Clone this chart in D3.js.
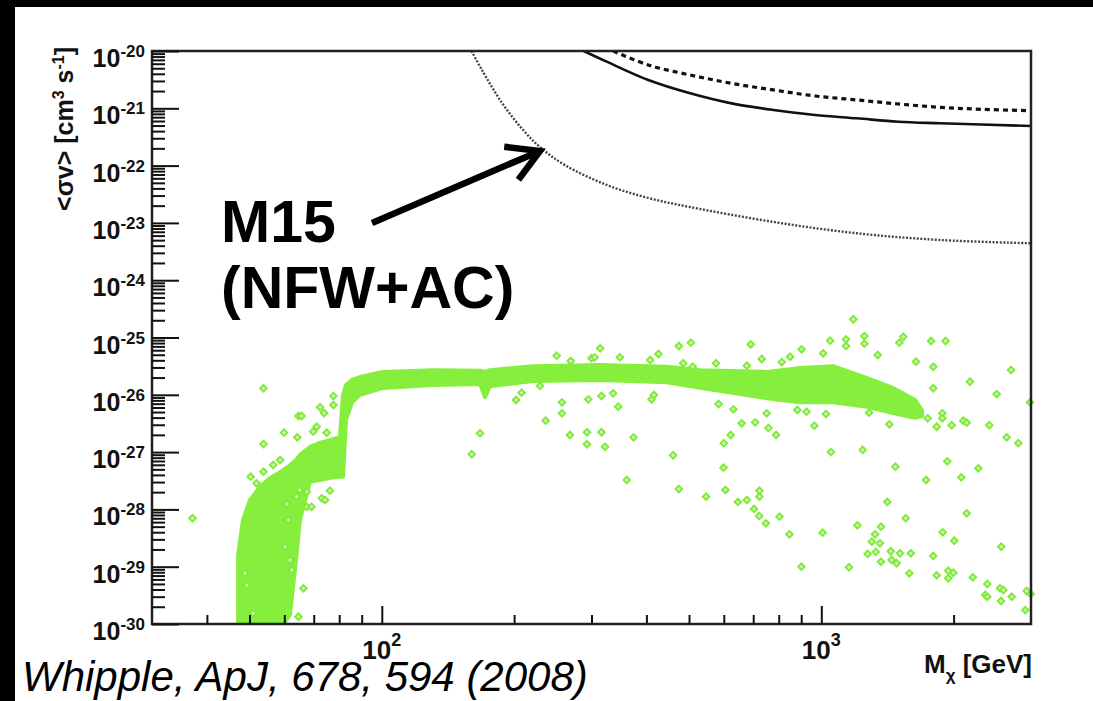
<!DOCTYPE html>
<html lang="en">
<head>
    <meta charset="UTF-8">
    <title>M15 annihilation limits</title>
    <style>
        body { margin: 0; background: #000; }
        svg { display: block; font-family: "Liberation Sans", Arial, sans-serif; }
    </style>
    <script src="https://cdnjs.cloudflare.com/ajax/libs/d3/7.8.5/d3.min.js"></script>
</head>
<body>
    <div id="chart"></div>

    <script>
        // axis ticks
        const massMajor = [100, 1000];
        const massMinor = [40, 50, 60, 70, 80, 90, 200, 300, 400, 500, 600, 700, 800, 900, 2000];
        const sigmaExponents = [-30, -29, -28, -27, -26, -25, -24, -23, -22, -21, -20];

        // limit curves [mass GeV, <sigma v>]
        const limitSolid = [[288, 1e-20], [325, 6.51e-21], [404, 3.12e-21], [503, 1.83e-21], [625, 1.22e-21],
            [778, 9.34e-22], [968, 7.64e-22], [1204, 6.69e-22], [1497, 5.83e-22], [1863, 5.47e-22], [3000, 4.91e-22]];
        const limitDashed = [[336, 1e-20], [404, 5.7e-21], [503, 3.81e-21], [625, 2.73e-21], [778, 2.09e-21],
            [968, 1.64e-21], [1204, 1.40e-21], [1497, 1.19e-21], [1863, 1.04e-21], [2317, 9.6e-22], [3000, 9.08e-22]];
        const limitDotted = [[160, 1e-20], [169, 4.66e-21], [188, 1.22e-21], [209, 4.3e-22], [229, 2.11e-22],
            [261, 1.02e-22], [325, 4.59e-23], [404, 2.72e-23], [503, 1.89e-23], [778, 1.04e-23], [1204, 6.59e-24],
            [1863, 5.03e-24], [3000, 4.41e-24]];

        // dense band of model points: [mass, upper, lower]
        const modelBand = [
            [47.1, 1.58e-29, 8e-31], [48.3, 6.46e-29, 8e-31], [50.1, 1.45e-28, 8e-31], [52.8, 2.45e-28, 8e-31],
            [55.7, 3.55e-28, 8e-31], [58.7, 4.47e-28, 8e-31], [61.8, 5.89e-28, 1.45e-30], [63.8, 7.24e-28, 1.32e-29],
            [65.1, 8.91e-28, 6.46e-29], [68.6, 1.23e-27, 3.02e-28], [72.3, 1.45e-27, 3.24e-28], [76.2, 1.62e-27, 3.55e-28],
            [80.3, 1.82e-27, 3.72e-28], [81.6, 1.0e-26, 3.72e-28], [82.9, 1.48e-26, 3.63e-27], [85.5, 1.82e-26, 7.41e-27],
            [89.2, 2.04e-26, 1.0e-26], [100.6, 2.51e-26, 1.32e-26], [130.8, 2.69e-26, 1.48e-26], [167.3, 2.63e-26, 1.55e-26],
            [171.7, 2.51e-26, 9.12e-27], [176.3, 2.69e-26, 1.41e-26], [220.8, 3.16e-26, 1.74e-26], [313.6, 3.31e-26, 1.82e-26],
            [445.6, 3.09e-26, 1.66e-26], [529.7, 2.69e-26, 1.32e-26], [752.3, 2.51e-26, 8.71e-27], [894.4, 2.95e-26, 7.41e-27],
            [1063, 3.16e-26, 7.41e-27], [1271, 1.95e-26, 6.17e-27], [1456, 1.32e-26, 4.79e-27], [1634, 8.13e-27, 3.98e-27],
            [1695, 5.37e-27, 4.27e-27]
        ];

        // individual model points outside the band: [mass, <sigma v>]
        const modelPoints = [
            [37.1, 7.0e-29], [53.8, 1.30e-26], [53.8, 1.38e-27], [59.9, 2.18e-27], [64.6, 4.27e-27], [65.7, 4.27e-27],
            [72.4, 6.05e-27], [77.6, 9.5e-27], [77.6, 6.64e-27], [73.9, 4.81e-27], [71.1, 2.77e-27], [69.8, 2.27e-27],
            [74.9, 2.18e-27], [64.2, 1.81e-27], [50.3, 3.72e-28], [53.8, 4.55e-28], [56.6, 5.96e-28], [58.7, 7.28e-28],
            [51.9, 2.85e-28], [65.1, 2.18e-28], [67.5, 2.04e-28], [64.0, 1.67e-28], [73.0, 1.56e-28], [74.3, 1.46e-28],
            [76.2, 2.12e-28], [67.5, 1.11e-28], [69.2, 1.11e-28], [60.8, 1.24e-28], [61.3, 6.53e-29], [60.2, 2.23e-29],
            [61.8, 1.31e-29], [62.4, 8.75e-30], [66.3, 4.2e-30], [64.6, 1.34e-30], [48.8, 7.67e-30], [49.3, 4.8e-30],
            [51.0, 1.54e-30],
            [160.2, 9.16e-28], [167.3, 2.13e-27], [202, 8.11e-27], [208, 1.09e-26], [229, 1.43e-26], [236, 3.53e-27],
            [250, 4.81e-26], [257, 7.4e-27], [257, 4.75e-27], [268, 1.99e-27], [269, 3.89e-26], [293, 2.22e-27],
            [293, 1.37e-27], [295, 8.34e-27], [300, 4.34e-26], [305, 4.51e-26], [314, 6.48e-26], [316, 9.53e-27],
            [316, 2.22e-27], [322, 1.24e-27], [336, 1.06e-26], [345, 6.2e-27], [348, 4.51e-26], [361, 3.26e-28],
            [374, 1.81e-27], [408, 4.05e-26], [426, 5.15e-26], [411, 8.34e-27], [416, 9.93e-27], [460, 8.8e-28],
            [474, 7.11e-26], [505, 8.11e-26], [474, 2.27e-28], [485, 3.55e-26], [510, 3.09e-26],
            [1183, 2.08e-25], [691, 7.6e-26], [1047, 8.79e-26], [1138, 9.3e-26], [1138, 7.11e-26], [1253, 1.06e-25],
            [1253, 7.8e-26], [1505, 8.11e-26], [1537, 1.03e-25], [1777, 8.69e-26], [1918, 8.69e-26], [576, 3.55e-26],
            [677, 3.22e-26], [732, 4.21e-26], [813, 3.73e-26], [849, 4.62e-26], [902, 6.22e-26], [1010, 5.3e-26],
            [1344, 4.95e-26], [1642, 3.78e-26], [1798, 3.09e-26], [2702, 2.71e-26], [2179, 1.69e-26], [2507, 1.03e-26],
            [2984, 7.4e-27], [1798, 1.3e-26], [584, 6.9e-27], [631, 5.58e-27], [751, 4.75e-27], [882, 5.43e-27],
            [926, 5.07e-27], [1025, 4.62e-27], [1284, 4.88e-27], [659, 3.18e-27], [707, 3.31e-27], [758, 2.64e-27],
            [789, 1.99e-27], [964, 2.89e-27], [1428, 3.05e-27], [1746, 3.89e-27], [1885, 4.75e-27], [1885, 3.89e-27],
            [1830, 2.77e-27], [1980, 2.94e-27], [2104, 3.53e-27], [2142, 3.26e-27], [2411, 2.94e-27], [622, 1.99e-27],
            [600, 1.43e-27], [1052, 1.0e-27], [1242, 1.09e-27], [2641, 1.81e-27], [2807, 1.43e-27], [599, 5.35e-28],
            [1474, 5.56e-28], [1934, 6.9e-28], [2082, 3.63e-28], [2276, 5.21e-28], [1731, 3.26e-28], [547, 1.67e-28],
            [605, 2.18e-28], [646, 1.35e-28], [677, 1.46e-28], [723, 2.12e-28], [723, 1.67e-28], [703, 1.02e-28],
            [722, 7.67e-29], [748, 5.72e-29], [803, 7.46e-29], [846, 3.67e-29], [1007, 3.92e-29], [1413, 1.35e-28],
            [1556, 7.0e-29], [1208, 5.28e-29], [1367, 4.99e-29], [1325, 3.67e-29], [1303, 2.73e-29], [1360, 2.56e-29],
            [1275, 1.67e-29], [1330, 1.81e-29], [1439, 1.86e-29], [1510, 1.71e-29], [1598, 1.71e-29], [1367, 1.22e-29],
            [1446, 1.31e-29], [1484, 1.15e-29], [1586, 7.67e-30], [1798, 1.54e-29], [1889, 3.98e-29], [2007, 2.84e-29],
            [2142, 8.55e-29], [2567, 2.23e-29], [901, 1.0e-29], [1156, 9.77e-30], [1830, 7.08e-30], [1945, 8.51e-30],
            [1997, 7.85e-30], [1945, 6.28e-30], [2211, 6.53e-30], [2386, 4.99e-30], [2361, 3.21e-30], [2386, 2.99e-30],
            [2550, 4.2e-30], [2595, 3.92e-30], [2711, 2.99e-30], [2563, 2.52e-30], [2933, 3.77e-30], [2995, 3.34e-30],
            [2912, 1.75e-30]
        ];

        // arrow from label to the M15 curve
        const arrowFrom = [95, 1.0e-23];
        const arrowTo = [229, 1.8e-22];

        const W = 1093, H = 701;
        const margin = { top: 51, right: 62, bottom: 77, left: 152 };
        const x0 = margin.left, x1 = W - margin.right;
        const y0 = H - margin.bottom, y1 = margin.top;

        const svg = d3.select("#chart").append("svg")
            .attr("width", W)
            .attr("height", H);

        // black border at top and left, as in the scanned slide
        svg.append("rect").attr("width", W).attr("height", H).attr("fill", "#000");
        svg.append("rect").attr("x", 15).attr("y", 7).attr("width", W - 15).attr("height", H - 7).attr("fill", "#fff");

        const x = d3.scaleLog().domain([30, 3000]).range([x0, x1]);
        const y = d3.scaleLog().domain([1e-30, 1e-20]).range([y0, y1]);

        svg.append("clipPath").attr("id", "plot-clip")
            .append("rect").attr("x", x0).attr("y", y1).attr("width", x1 - x0).attr("height", y0 - y1);

        const plot = svg.append("g").attr("clip-path", "url(#plot-clip)");

        // model band
        const band = d3.area()
            .x(d => x(d[0]))
            .y0(d => y(d[2]))
            .y1(d => y(d[1]));

        plot.append("path")
            .datum(modelBand)
            .attr("d", band)
            .attr("fill", "#86ee3c")
            .attr("stroke", "#86ee3c")
            .attr("stroke-width", 4)
            .attr("stroke-linejoin", "round");

        // limit curves
        const line = d3.line()
            .x(d => x(d[0]))
            .y(d => y(d[1]))
            .curve(d3.curveCatmullRom.alpha(0.5));

        plot.append("path").datum(limitDotted).attr("d", line)
            .attr("fill", "none").attr("stroke", "#444").attr("stroke-width", 2.4)
            .attr("stroke-dasharray", "2,1.6");
        plot.append("path").datum(limitDashed).attr("d", line)
            .attr("fill", "none").attr("stroke", "#111").attr("stroke-width", 3.2)
            .attr("stroke-dasharray", "5,4");
        plot.append("path").datum(limitSolid).attr("d", line)
            .attr("fill", "none").attr("stroke", "#111").attr("stroke-width", 2.6);

        // scattered model points (open diamonds)
        const diamond = d3.symbol().type(d3.symbolSquare).size(22);
        svg.append("g").selectAll("path")
            .data(modelPoints)
            .enter()
            .append("path")
            .attr("d", diamond)
            .attr("transform", d => `translate(${x(d[0])},${y(d[1])}) rotate(45)`)
            .attr("fill", "#cdf8b0")
            .attr("stroke", "#80ea3a")
            .attr("stroke-width", 1.9);

        // frame
        svg.append("rect")
            .attr("x", x0).attr("y", y1)
            .attr("width", x1 - x0).attr("height", y0 - y1)
            .attr("fill", "none").attr("stroke", "#222").attr("stroke-width", 2.5);

        // ticks drawn inward, ROOT style
        const yMinor = [];
        sigmaExponents.slice(0, -1).forEach(e => {
            for (let k = 2; k <= 9; k++) yMinor.push(k * Math.pow(10, e));
        });
        const yMajor = sigmaExponents.map(e => Math.pow(10, e));

        function styleTicks(g) {
            g.select(".domain").remove();
            g.selectAll("line").attr("stroke", "#111").attr("stroke-width", 2);
        }

        svg.append("g").attr("transform", `translate(${x0},0)`)
            .call(d3.axisRight(y).tickValues(yMinor).tickSize(13).tickFormat(""))
            .call(styleTicks);
        svg.append("g").attr("transform", `translate(${x0},0)`)
            .call(d3.axisRight(y).tickValues(yMajor).tickSize(27).tickFormat(""))
            .call(styleTicks);
        svg.append("g").attr("transform", `translate(0,${y0})`)
            .call(d3.axisTop(x).tickValues(massMinor).tickSize(9).tickFormat(""))
            .call(styleTicks);
        svg.append("g").attr("transform", `translate(0,${y0})`)
            .call(d3.axisTop(x).tickValues(massMajor).tickSize(18).tickFormat(""))
            .call(styleTicks);

        // tick labels as powers of ten
        sigmaExponents.forEach(e => {
            const t = svg.append("text")
                .attr("x", x0 - 7)
                .attr("y", y(Math.pow(10, e)) + 16)
                .attr("text-anchor", "end")
                .attr("font-size", 25)
                .attr("font-weight", "bold")
                .attr("fill", "#111");
            t.append("tspan").text("10");
            t.append("tspan").attr("dy", -10).attr("font-size", 17).text(e);
        });

        massMajor.forEach(m => {
            const t = svg.append("text")
                .attr("x", x(m))
                .attr("y", y0 + 35)
                .attr("text-anchor", "middle")
                .attr("font-size", 26)
                .attr("font-weight", "bold")
                .attr("fill", "#111");
            t.append("tspan").text("10");
            t.append("tspan").attr("dy", -13).attr("font-size", 18).text(Math.round(Math.log10(m)));
        });

        // axis titles
        const xt = svg.append("text")
            .attr("x", x1 + 1)
            .attr("y", 673)
            .attr("text-anchor", "end")
            .attr("font-size", 26)
            .attr("font-weight", "bold")
            .attr("fill", "#111");
        xt.append("tspan").text("M");
        xt.append("tspan").attr("dy", 8).attr("font-size", 17).text("χ");
        xt.append("tspan").attr("dy", -8).text(" [GeV]");

        const yt = svg.append("text")
            .attr("transform", `translate(73,47) rotate(-90)`)
            .attr("text-anchor", "end")
            .attr("font-size", 25)
            .attr("font-weight", "bold")
            .attr("fill", "#111");
        yt.append("tspan").text("<σv> [cm");
        yt.append("tspan").attr("dy", -9).attr("font-size", 16).text("3");
        yt.append("tspan").attr("dy", 9).text(" s");
        yt.append("tspan").attr("dy", -9).attr("font-size", 16).text("-1");
        yt.append("tspan").attr("dy", 9).text("]");

        // annotation
        svg.append("text").attr("x", 221).attr("y", 242)
            .attr("font-size", 59).attr("font-weight", "bold").text("M15");
        svg.append("text").attr("x", 221).attr("y", 308)
            .attr("font-size", 59).attr("font-weight", "bold").text("(NFW+AC)");

        const ax0 = x(arrowFrom[0]), ay0 = y(arrowFrom[1]);
        const ax1 = x(arrowTo[0]), ay1 = y(arrowTo[1]);
        const ang = Math.atan2(ay1 - ay0, ax1 - ax0);
        const headLen = 36, spread = Math.PI / 6;
        svg.append("line")
            .attr("x1", ax0).attr("y1", ay0).attr("x2", ax1 - 3 * Math.cos(ang)).attr("y2", ay1 - 3 * Math.sin(ang))
            .attr("stroke", "#000").attr("stroke-width", 6.5);
        svg.append("polyline")
            .attr("points", [
                [ax1 - headLen * Math.cos(ang - spread), ay1 - headLen * Math.sin(ang - spread)],
                [ax1, ay1],
                [ax1 - headLen * Math.cos(ang + spread), ay1 - headLen * Math.sin(ang + spread)]
            ].map(p => p.join(",")).join(" "))
            .attr("fill", "none").attr("stroke", "#000").attr("stroke-width", 6.5)
            .attr("stroke-linejoin", "miter");

        // citation
        svg.append("text").attr("x", 22).attr("y", 691)
            .attr("font-size", 42).attr("font-style", "italic").attr("fill", "#000")
            .text("Whipple, ApJ, 678, 594 (2008)");
    </script>
</body>
</html>
